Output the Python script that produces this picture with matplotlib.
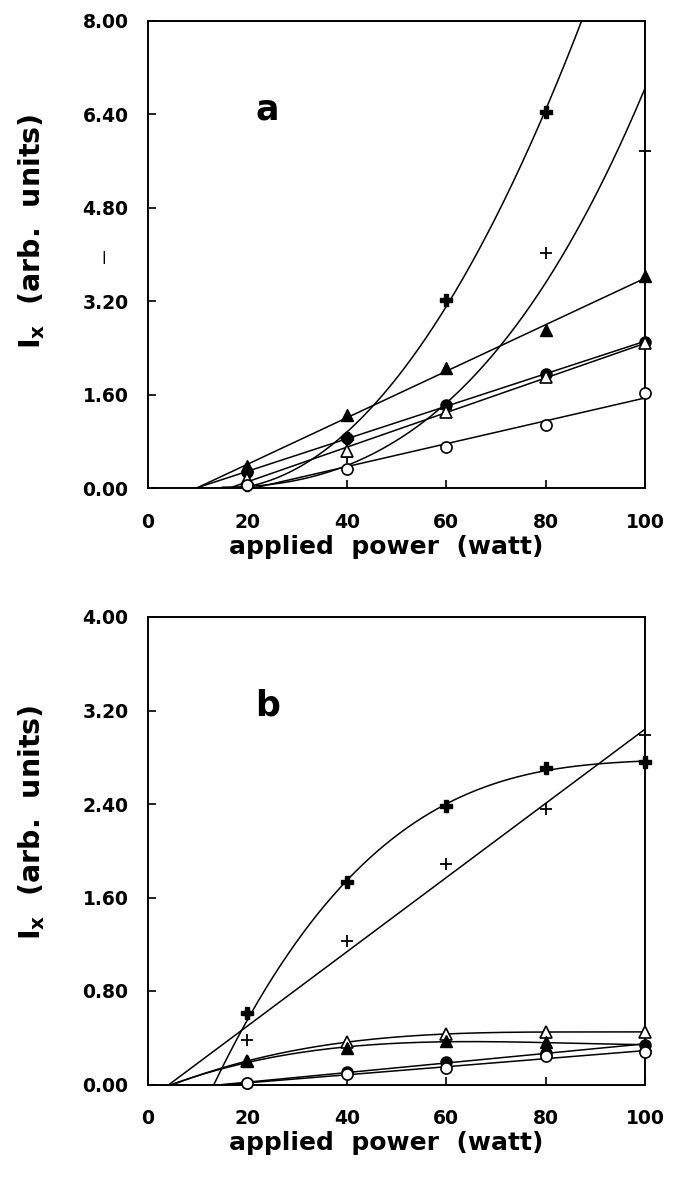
import matplotlib
matplotlib.use("Agg")
import matplotlib.pyplot as plt
import numpy as np

plt.rcParams['font.family'] = 'DejaVu Sans'
plt.rcParams['font.weight'] = 'bold'
plt.rcParams['mathtext.fontset'] = 'custom'
plt.rcParams['mathtext.bf'] = 'DejaVu Sans:bold'
plt.rcParams['mathtext.rm'] = 'DejaVu Sans:bold'

power = [20, 40, 60, 80, 100]

# panel a - measured points
a_boldplus = [0.05, 0.85, 3.22, 6.44]
a_plus = [0.05, 0.53, 1.35, 4.03, 5.78]
a_tri_f = [0.37, 1.25, 2.05, 2.70, 3.63]
a_circ_f = [0.27, 0.85, 1.42, 1.96, 2.50]
a_tri_o = [0.15, 0.63, 1.30, 1.90, 2.48]
a_circ_o = [0.05, 0.32, 0.71, 1.08, 1.63]
# fitted curve for the thin crosses
a_plus_curve = [0.04, 0.40, 1.42, 3.54, 6.84]

# panel b
b_boldplus = [0.61, 1.73, 2.38, 2.71, 2.76]
b_plus = [0.38, 1.23, 1.89, 2.36, 2.99]
b_tri_o = [0.20, 0.365, 0.43, 0.45, 0.45]
b_tri_f = [0.20, 0.31, 0.37, 0.36, 0.34]
b_circ_f = [0.01, 0.11, 0.19, 0.27, 0.34]
b_circ_o = [0.01, 0.09, 0.14, 0.24, 0.28]

# power where the fitted curves leave the axis (None = plain linear fit)
onset_a = {'boldplus': 12, 'plus': 15}
onset_b = {'boldplus': 13.7, 'tri_o': 5, 'tri_f': 5}

styles = {
    'boldplus': dict(marker='P', ms=9, mfc='black', mec='black'),
    'plus': dict(marker='+', ms=8, mew=1.3, mec='black'),
    'tri_f': dict(marker='^', ms=8, mfc='black', mec='black'),
    'tri_o': dict(marker='^', ms=8, mfc='white', mec='black', mew=1.2),
    'circ_f': dict(marker='o', ms=8, mfc='black', mec='black'),
    'circ_o': dict(marker='o', ms=8, mfc='white', mec='black', mew=1.2),
}


def draw(ax, y, deg, kind, onset=None, curve=None):
    x = np.array(power[:len(y)], dtype=float)
    fy = np.array(curve if curve is not None else y, dtype=float)
    fx = np.array(power[:len(fy)], dtype=float)
    if onset is not None:
        fx = np.r_[onset, fx]
        fy = np.r_[0.0, fy]
    coef = np.polyfit(fx, fy, deg)
    xs = np.linspace(0, 100, 801)
    ys = np.polyval(coef, xs)
    left = xs < 50
    start = np.argmin(np.where(left, ys, np.inf))
    if onset is not None:
        start = max(start, np.searchsorted(xs, onset) - 4)
    ax.plot(xs[start:], ys[start:], color='black', lw=1.1, zorder=2)
    ax.plot(x, y, ls='none', zorder=3, clip_on=False, **styles[kind])


fig = plt.figure(figsize=(6.77, 11.78), dpi=100)
ax1 = fig.add_axes([148/677, 1-488/1178, 497/677, 467/1178])
ax2 = fig.add_axes([148/677, 1-1084.5/1178, 497/677, 467.5/1178])

draw(ax1, a_boldplus, 2, 'boldplus', onset_a['boldplus'])
draw(ax1, a_plus, 3, 'plus', onset_a['plus'], a_plus_curve)
draw(ax1, a_tri_f, 1, 'tri_f')
draw(ax1, a_circ_f, 1, 'circ_f')
draw(ax1, a_tri_o, 1, 'tri_o')
draw(ax1, a_circ_o, 1, 'circ_o')

draw(ax2, b_boldplus, 3, 'boldplus', onset_b['boldplus'])
draw(ax2, b_plus, 1, 'plus')
draw(ax2, b_tri_o, 3, 'tri_o', onset_b['tri_o'])
draw(ax2, b_tri_f, 3, 'tri_f', onset_b['tri_f'])
draw(ax2, b_circ_f, 1, 'circ_f')
draw(ax2, b_circ_o, 1, 'circ_o')

for ax, top, lab in [(ax1, 8.0, 'a'), (ax2, 4.0, 'b')]:
    ax.set_xlim(0, 100)
    ax.set_ylim(0, top)
    ax.set_xticks([0, 20, 40, 60, 80, 100])
    ax.set_yticks(np.linspace(0, top, 6))
    ax.yaxis.set_major_formatter(matplotlib.ticker.FormatStrFormatter('%.2f'))
    ax.tick_params(direction='in', length=6, width=1.2, labelsize=13.5)
    ax.tick_params(axis='y', pad=14)
    ax.tick_params(axis='x', pad=18)
    for s in ax.spines.values():
        s.set_linewidth(1.4)
    ax.set_xlabel('applied  power  (watt)', fontsize=18, fontweight='bold', labelpad=7)
    ax.xaxis.set_label_coords(0.48, -0.1)
    ax.xaxis.label.set_va('top')
    ax.text(24, top*0.81, lab, fontsize=25, fontweight='bold', ha='center', va='center')

for ycen in [231, 822]:
    fig.text(32/677, 1-ycen/1178, r'$\mathbf{I_x}$  (arb.  units)', rotation=90,
             fontsize=20.5, fontweight='bold', ha='center', va='center')
fig.text(104/677, 1-257/1178, '|', fontsize=9, fontweight='bold', ha='center', va='center')

fig.savefig('out.png', dpi=100)
